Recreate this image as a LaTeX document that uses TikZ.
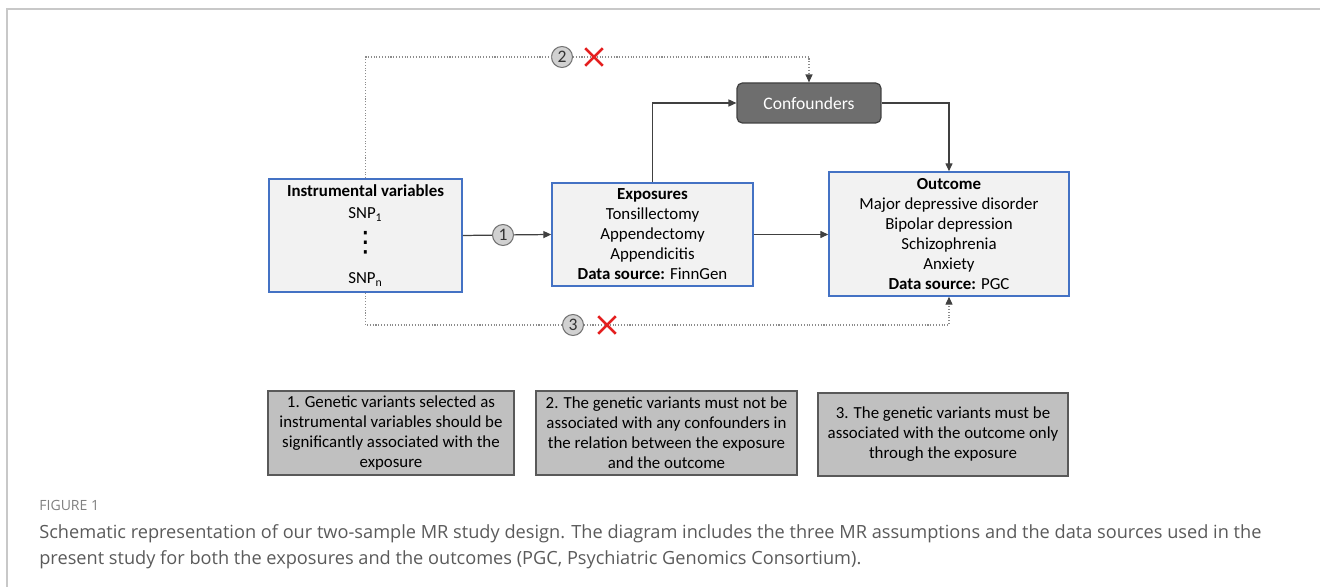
\documentclass[tikz,border=0pt]{standalone}
\usepackage{fontspec}
\setmainfont{Carlito}
\newfontfamily\capfont{Open Sans}
\newfontfamily\symfont{DejaVu Sans}
\usetikzlibrary{arrows.meta,shapes.misc,shadows}

\definecolor{ivblue}{HTML}{4472C4}
\definecolor{boxfill}{HTML}{F2F2F2}
\definecolor{confgray}{HTML}{6E6E6E}
\definecolor{notefill}{HTML}{C0C0C0}
\definecolor{linegray}{HTML}{404040}
\definecolor{dotgray}{HTML}{8C8C8C}
\definecolor{capgray}{HTML}{5A5A5A}
\definecolor{framegray}{HTML}{C8C8C8}
\definecolor{crossred}{HTML}{E41E1E}

\newcommand{\ivdots}{\smash{\symfont\fontsize{16}{16}\selectfont ⋮}}

\tikzset{
  mainbox/.style={draw=ivblue, line width=0.9pt, fill=boxfill, align=center,
    inner sep=0pt, font=\fontsize{9.6}{11.4}\selectfont},
  confbox/.style={draw=linegray, line width=0.7pt, fill=confgray, rounded corners=3pt,
    text=white, minimum width=2.88cm, minimum height=0.8cm, font=\fontsize{10}{12}\selectfont},
  notebox/.style={draw=black!65, line width=0.7pt, fill=notefill, align=center,
    minimum height=1.68cm, inner sep=0pt, font=\fontsize{9.6}{11.4}\selectfont,
    drop shadow={shadow xshift=0.5pt, shadow yshift=-0.7pt, fill=black!80, opacity=0.8}},
  numcirc/.style={circle, draw=black!55, line width=0.6pt, fill=black!18, inner sep=0pt,
    minimum size=0.42cm, text=black!80, font=\fontsize{10}{10}\selectfont},
  crossmark/.style={cross out, draw=crossred, line width=1.4pt, inner sep=0pt, minimum size=0.3cm},
  conn/.style={draw=linegray, line width=0.7pt},
  dotline/.style={draw=dotgray, line width=0.6pt, densely dotted},
  tip/.style={-{Triangle[length=4.5pt,width=4pt]}},
  dottip/.style={-{Triangle[length=4.5pt,width=4pt,color=linegray]}}
}

\begin{document}
\begin{tikzpicture}[x=0.02cm, y=-0.02cm]
  \useasboundingbox (0,0) rectangle (1320,587);
  \draw[framegray, line width=0.8pt] (7,587) -- (7,9) -- (1320,9);  % page frame

  % main boxes
  \node[mainbox, minimum width=3.86cm, minimum height=2.26cm] (iv) at (365.5,235.5)
    {\textbf{Instrumental variables}\\[1pt] SNP\textsubscript{1}\\[7.5pt] \ivdots\\[6.6pt] SNP\textsubscript{n}};
  \node[mainbox, minimum width=4.02cm, minimum height=2.06cm] (exp) at (652.5,234.5)
    {\textbf{Exposures}\\ Tonsillectomy\\ Appendectomy\\ Appendicitis\\ \textbf{Data source:} FinnGen};
  \node[mainbox, minimum width=4.8cm, minimum height=2.48cm] (out) at (949,234)
    {\textbf{Outcome}\\ Major depressive disorder\\ Bipolar depression\\ Schizophrenia\\ Anxiety\\ \textbf{Data source:} PGC};
  \node[confbox] (conf) at (809,103) {Confounders};

  % numbered circles and crosses
  \foreach \n/\x/\y in {1/503/235, 2/562/57, 3/573/325} {
    \node[numcirc] (c\n) at (\x,\y) {\n};
  }
  \foreach \n/\x/\y in {2/594/57, 3/607/325} {
    \node[crossmark] (x\n) at (\x,\y) {};
  }

  % solid connectors
  \draw[conn] (iv.east) -- (c1);
  \draw[conn, tip] (c1) -- (exp.west);
  \draw[conn, tip] (exp.east) -- (exp.east -| out.west);
  \draw[conn, tip] (exp.north) |- (conf.west);
  \draw[conn, tip] (conf.east) -| (out.north);

  % dotted connectors
  \draw[dotline] (iv.north) |- (c2);
  \draw[dotline] (c2) -- (x2.center);
  \draw[dotline, dottip] (x2.center) -| (conf.north);
  \draw[dotline] (iv.south) |- (c3);
  \draw[dotline] (c3) -- (x3.center);
  \draw[dotline, dottip] (x3.center) -| (out.south);
  \foreach \n in {2,3} {
    \node[crossmark] at (x\n) {};
  }

  % assumption notes
  \node[notebox, minimum width=4.92cm] (note1) at (391,433)
    {1. Genetic variants selected as\\ instrumental variables should be\\ significantly associated with the\\ exposure};
  \node[notebox, minimum width=5.22cm] (note2) at (666.5,433)
    {2. The genetic variants must not be\\ associated with any confounders in\\ the relation between the exposure\\ and the outcome};
  \node[notebox, minimum width=5.0cm, minimum height=1.66cm] (note3) at (943,434.5)
    {3. The genetic variants must be\\ associated with the outcome only\\ through the exposure};

  % caption
  \node[anchor=west, text=black!50, font=\capfont\fontsize{8}{10}\selectfont, inner sep=0pt] (fig) at (39,505) {FIGURE 1};
  \node[anchor=north west, align=left, text=capgray, inner sep=0pt,
    font=\capfont\fontsize{10.35}{15.2}\selectfont] (caption) at (39,524)
    {Schematic representation of our two-sample MR study design. The diagram includes the three MR assumptions and the data sources used in the\\
     present study for both the exposures and the outcomes (PGC, Psychiatric Genomics Consortium).};
\end{tikzpicture}
\end{document}
